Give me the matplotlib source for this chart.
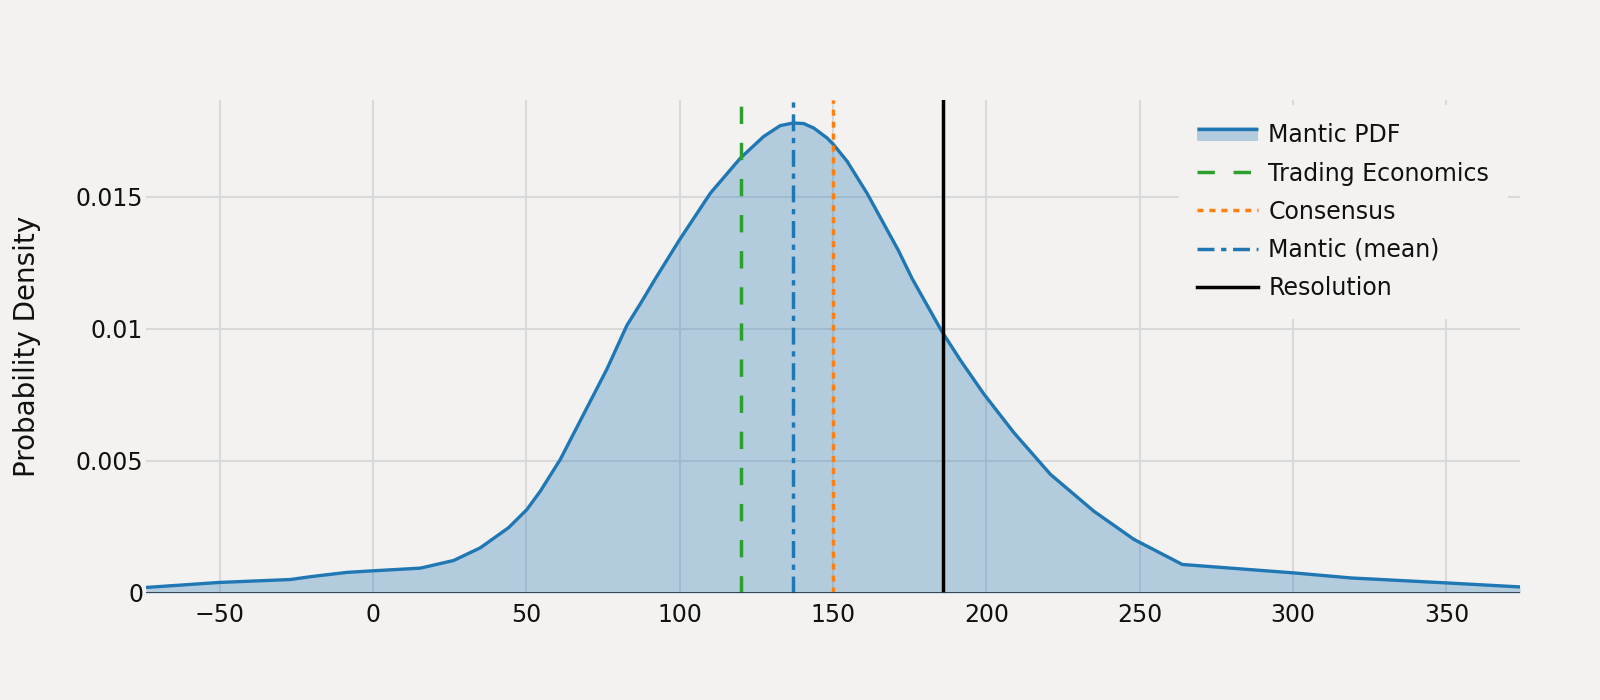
import matplotlib
matplotlib.use("Agg")
import matplotlib.pyplot as plt
from matplotlib.lines import Line2D
from matplotlib.patches import Rectangle
from matplotlib.legend_handler import HandlerBase

plt.rcParams["font.family"] = ["DejaVu Sans"]
plt.rcParams["lines.scale_dashes"] = False

# ---------------- data ----------------
pdf_x = [-74, -50, -27, -19.5, -8.5, 0, 15.4, 26.3, 35, 44.2, 50.2, 54.6, 61.1,
         68.7, 76.3, 82.8, 87.2, 92.1, 99.8, 110, 119.8, 127.4, 132.8, 137,
         140.4, 143.7, 148.1, 150.2, 154.6, 161.1, 171.3, 175.8, 185.6, 191.6,
         199.2, 208.9, 220.9, 235, 248.1, 263.9, 300.3, 318.8, 350.3, 374]
pdf_y = [0.00021, 0.00040, 0.00051, 0.00063, 0.00078, 0.00084, 0.00094, 0.00123,
         0.00171, 0.00247, 0.00316, 0.00386, 0.00506, 0.00677, 0.00848, 0.01013,
         0.01095, 0.01190, 0.01334, 0.01513, 0.01646, 0.01728, 0.01769, 0.01779,
         0.01777, 0.01760, 0.01722, 0.01697, 0.01634, 0.01513, 0.01297, 0.01190,
         0.00988, 0.00880, 0.00753, 0.00608, 0.00449, 0.00310, 0.00203, 0.00108,
         0.00076, 0.00057, 0.00038, 0.00023]

ref_names = ["Trading Economics", "Consensus", "Mantic (mean)", "Resolution"]
ref_values = [120, 150, 136.8, 186]

x_ticks = [-50, 0, 50, 100, 150, 200, 250, 300, 350]
y_ticks = [0, 0.005, 0.01, 0.015]
x_range = (-74, 374)
y_range = (0, 0.01866)

# ---------------- style ----------------
BG = "#f3f2f0"
BLUE = "#1f77b4"
GRID = "#d9d9d9"
ZERO = "#2a3b4d"
TEXT = "#111111"
ref_styles = {
    "Trading Economics": dict(color="#2ca02c", dashes=(12.5, 13.5)),
    "Consensus": dict(color="#ff7f0e", dashes=(4.3, 4.3)),
    "Mantic (mean)": dict(color=BLUE, dashes=(12.2, 4.8, 3.8, 4.8)),
    "Resolution": dict(color="black", linestyle="-"),
}


class FillLineHandler(HandlerBase):
    """Legend entry like plotly's filled trace: light band with the line on top."""

    def create_artists(self, legend, orig_handle, xdescent, ydescent,
                       width, height, fontsize, trans):
        band_h = height * 0.85
        y0 = -ydescent + (height - band_h) / 2
        band = Rectangle((-xdescent, y0), width, band_h, facecolor=BLUE,
                         alpha=0.3, edgecolor="none", transform=trans)
        top = y0 + band_h - 1.2
        line = Line2D([-xdescent, -xdescent + width], [top, top], color=BLUE,
                      lw=2.4, solid_capstyle="butt", transform=trans)
        return [band, line]


fig = plt.figure(figsize=(16, 7), dpi=100)
fig.patch.set_facecolor(BG)
ax = fig.add_axes([146 / 1600, 1 - 593 / 700, 1374 / 1600, 493 / 700])
ax.set_facecolor(BG)
for s in ax.spines.values():
    s.set_visible(False)
ax.set_axisbelow(True)
ax.grid(True, color=GRID, lw=1.45)

ax.fill_between(pdf_x, pdf_y, 0, color=BLUE, alpha=0.3, lw=0, zorder=2)
pdf_line, = ax.plot(pdf_x, pdf_y, color=BLUE, lw=2.4, zorder=3)

handles = [pdf_line]
for name, val in zip(ref_names, ref_values):
    h = ax.axvline(val, lw=2.5, zorder=4, label=name, **ref_styles[name])
    handles.append(h)

ax.axhline(0, color=ZERO, lw=2.0, zorder=5)

ax.set_xlim(*x_range)
ax.set_ylim(*y_range)
ax.set_xticks(x_ticks)
ax.set_yticks(y_ticks)
ax.set_yticklabels([f"{v:g}" for v in y_ticks])
ax.tick_params(length=0, labelsize=17, colors=TEXT)
ax.tick_params(axis="y", pad=2)
ax.tick_params(axis="x", pad=7)

fig.text(27 / 1600, 1 - 346.5 / 700, "Probability Density", rotation=90,
         ha="center", va="center", fontsize=20, color=TEXT)

leg = fig.legend(handles, ["Mantic PDF"] + ref_names,
                 handler_map={pdf_line: FillLineHandler()},
                 loc="upper left", bbox_to_anchor=(1179 / 1600, 1 - 105 / 700),
                 borderaxespad=0, frameon=True, facecolor=BG, edgecolor="none",
                 framealpha=1, fancybox=False, fontsize=17, handlelength=2.55,
                 handletextpad=0.45, labelspacing=0.6, borderpad=0.78)
for t in leg.get_texts():
    t.set_color(TEXT)

fig.savefig("out.png", dpi=100, facecolor=BG)
